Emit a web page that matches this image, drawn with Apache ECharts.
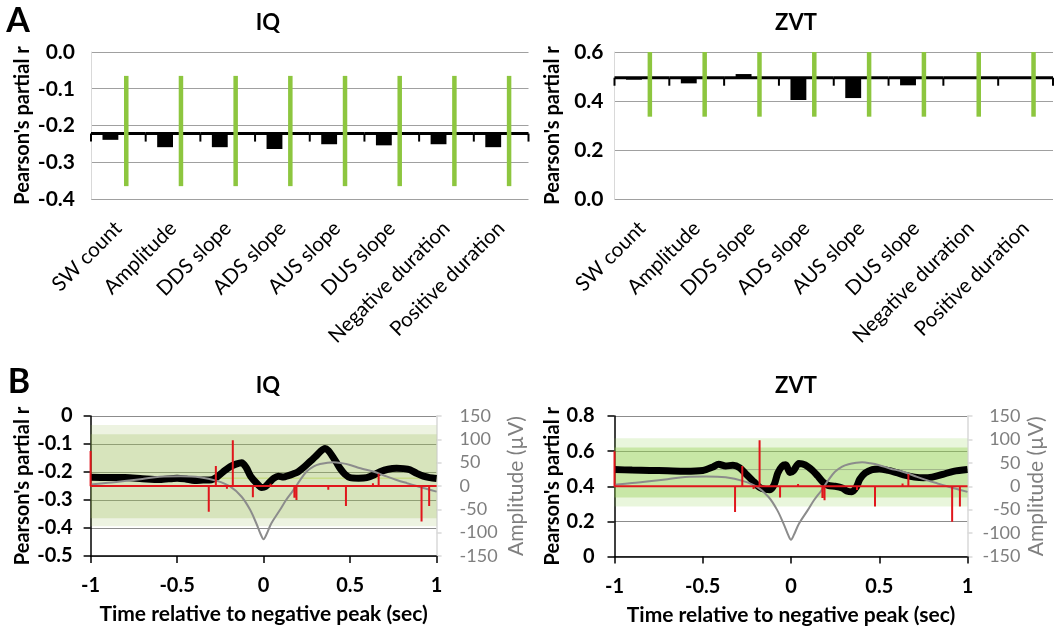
<!DOCTYPE html>
<html><head><meta charset="utf-8">
<script src="https://cdn.jsdelivr.net/npm/echarts@6/dist/echarts.min.js"></script>
<style>html,body{margin:0;padding:0;background:#fff}#c{width:1054px;height:627px}</style>
</head><body><div id="c"></div>
<script>
// ---------- DATA ----------
const categories = ['SW count','Amplitude','DDS slope','ADS slope','AUS slope','DUS slope','Negative duration','Positive duration'];
const iqPartialR  = [-0.239,-0.259,-0.259,-0.264,-0.251,-0.254,-0.251,-0.259];
const zvtPartialR = [0.487,0.472,0.510,0.404,0.412,0.464,0.498,0.493];
// null-distribution (mean, 95% range, soft outer range)
const iqNull  = {mean:-0.222, low:-0.365, high:-0.065, outerLow:-0.394, outerHigh:-0.032};
const zvtNull = {mean:0.495, low:0.336, high:0.62, outerLow:0.284, outerHigh:0.673};
// partial r over time (sec) relative to negative peak
const iqTimeR = [[-1,-0.219],[-0.9,-0.22],[-0.8,-0.22],[-0.7,-0.224],[-0.6,-0.227],[-0.5,-0.222],[-0.45,-0.225],[-0.4,-0.23],[-0.35,-0.229],[-0.3,-0.228],[-0.27,-0.218],[-0.233,-0.199],[-0.194,-0.181],[-0.16,-0.172],[-0.127,-0.167],[-0.1,-0.185],[-0.075,-0.215],[-0.04,-0.24],[-0.011,-0.255],[0.01,-0.252],[0.037,-0.235],[0.06,-0.222],[0.085,-0.215],[0.115,-0.218],[0.143,-0.213],[0.17,-0.207],[0.2,-0.199],[0.235,-0.182],[0.268,-0.163],[0.3,-0.145],[0.326,-0.128],[0.355,-0.116],[0.375,-0.124],[0.394,-0.14],[0.42,-0.165],[0.442,-0.187],[0.47,-0.208],[0.5,-0.22],[0.55,-0.222],[0.596,-0.22],[0.64,-0.21],[0.673,-0.199],[0.72,-0.19],[0.769,-0.187],[0.81,-0.188],[0.846,-0.192],[0.885,-0.205],[0.923,-0.215],[0.96,-0.22],[1,-0.223]];
const zvtTimeR = [[-1,0.495],[-0.9,0.492],[-0.8,0.49],[-0.7,0.488],[-0.6,0.486],[-0.5,0.49],[-0.442,0.51],[-0.41,0.525],[-0.37,0.515],[-0.329,0.52],[-0.29,0.505],[-0.251,0.465],[-0.21,0.425],[-0.176,0.392],[-0.145,0.382],[-0.119,0.38],[-0.095,0.41],[-0.075,0.475],[-0.05,0.515],[-0.03,0.522],[-0.006,0.478],[0.015,0.49],[0.045,0.53],[0.08,0.522],[0.12,0.492],[0.15,0.46],[0.18,0.425],[0.21,0.405],[0.25,0.4],[0.29,0.39],[0.316,0.373],[0.345,0.368],[0.37,0.395],[0.39,0.44],[0.42,0.475],[0.46,0.495],[0.5,0.498],[0.55,0.49],[0.6,0.477],[0.65,0.462],[0.7,0.452],[0.75,0.448],[0.8,0.452],[0.86,0.468],[0.92,0.485],[1,0.495]];
// average slow-wave amplitude (µV)
const waveAmp = [[-1,3],[-0.9,7],[-0.79,11],[-0.7,15],[-0.6,20],[-0.48,21],[-0.37,19],[-0.27,11],[-0.194,-1],[-0.127,-23],[-0.078,-51],[-0.04,-82],[-0.015,-105],[0,-114],[0.015,-105],[0.045,-80],[0.095,-51],[0.13,-30],[0.172,-9],[0.21,12],[0.249,31],[0.29,42],[0.326,47],[0.37,50],[0.403,51],[0.45,49],[0.5,45],[0.56,38],[0.634,31],[0.7,22],[0.769,13],[0.83,6],[0.885,0],[0.94,-6],[1,-12]];
// red spikes (µV, right axis)
const spikeTimes  = [-1, -0.317, -0.276, -0.212, -0.178, -0.062, 0.04, 0.178, 0.19, 0.374, 0.476, 0.632, 0.665, 0.913, 0.957];
const spikeValues = [75, -55, 43, -6, 98, -24, 5, -25, -30, -8, -43, 6, 26, -76, -43];
const xTicks = {min:-1, max:1, interval:0.5};

// ---------- BUILD ----------
const FONT = 'Lato, "Open Sans", sans-serif';
const spikeLine = [];
spikeTimes.forEach((t,i)=>{ if(i>0) spikeLine.push([t,0]); spikeLine.push([t,spikeValues[i]]); spikeLine.push([t,0]); });
spikeLine.push([1,0]);

function barSeries(vals, cross, idx){
  return {type:'custom', xAxisIndex:idx, yAxisIndex:idx, z:2, silent:true,
    data: vals.map((v,i)=>[i,v]), encode:{x:0,y:1},
    renderItem:(p,api)=>{
      const i=api.value(0), v=api.coord([i,api.value(1)]), b=api.coord([i,cross]);
      const w=api.size([1,0])[0]*0.29;
      return {type:'rect', shape:{x:v[0]-w, y:Math.min(v[1],b[1]), width:w, height:Math.abs(v[1]-b[1])}, style:{fill:'#000'}};
    }};
}
function errSeries(nul, yMax, idx){
  return {type:'custom', xAxisIndex:idx, yAxisIndex:idx, z:4, silent:true,
    data: categories.map((c,i)=>[i,nul.low,Math.min(nul.high,yMax)]), encode:{x:0,y:[1,2]},
    renderItem:(p,api)=>{
      const i=api.value(0), lo=api.coord([i,api.value(1)]), hi=api.coord([i,api.value(2)]);
      const x=lo[0]+api.size([1,0])[0]*0.145;
      return {type:'line', shape:{x1:x,y1:lo[1],x2:x,y2:hi[1]}, style:{stroke:'#8dc63f', lineWidth:4.5}};
    }};
}
function crossAxisSeries(cross, idx){
  return {type:'custom', xAxisIndex:idx, yAxisIndex:idx, z:3, silent:true,
    data: categories.map((c,i)=>[i,cross]), encode:{x:0,y:1},
    renderItem:(p,api)=>{
      const i=api.value(0), c=api.coord([i,api.value(1)]), band=api.size([1,0])[0];
      const l=c[0]-band/2, r=c[0]+band/2;
      const ch=[{type:'line', shape:{x1:l,y1:c[1],x2:r,y2:c[1]}, style:{stroke:'#000',lineWidth:3}},
                {type:'line', shape:{x1:l,y1:c[1],x2:l,y2:c[1]+8}, style:{stroke:'#000',lineWidth:2}}];
      if(i===categories.length-1) ch.push({type:'line', shape:{x1:r,y1:c[1],x2:r,y2:c[1]+8}, style:{stroke:'#000',lineWidth:2}});
      return {type:'group', children:ch};
    }};
}
function catX(idx){
  return {gridIndex:idx, type:'category', data:categories, boundaryGap:true,
    axisLine:{show:false}, axisTick:{show:false}, splitLine:{show:false},
    axisLabel:{rotate:45, interval:0, fontSize:20.5, fontFamily:FONT, color:'#000', margin:26}};
}
function aY(idx,min,max,interval,margin,gap){
  return {gridIndex:idx, type:'value', min, max, interval,
    axisLine:{show:true,onZero:false,lineStyle:{color:'#d9d9d9',width:1}}, axisTick:{show:false},
    splitLine:{show:true,lineStyle:{color:'#a0a0a0',width:1}},
    axisLabel:{formatter:v=>v.toFixed(1), fontSize:21, fontWeight:'bold', fontFamily:FONT, color:'#000', margin},
    name:"Pearson's partial r", nameLocation:'middle', nameRotate:90, nameGap:gap,
    nameTextStyle:{fontSize:20, fontWeight:'bold', fontFamily:FONT, color:'#000'}};
}
function timeX(idx){
  return {gridIndex:idx, type:'value', min:xTicks.min, max:xTicks.max, interval:xTicks.interval,
    axisLine:{show:true,onZero:false,lineStyle:{color:'#000',width:1.5}},
    axisTick:{show:true,length:7,lineStyle:{color:'#000',width:1.5}}, splitLine:{show:false},
    axisLabel:{fontSize:20, fontWeight:'bold', fontFamily:FONT, color:'#000', margin:20},
    name:'Time relative to negative peak (sec)', nameLocation:'middle', nameGap:48,
    nameTextStyle:{fontSize:21, fontWeight:'bold', fontFamily:FONT, color:'#000'}};
}
function rLeft(idx,min,max,interval,margin,gap){
  return {gridIndex:idx, type:'value', min, max, interval,
    axisLine:{show:true,onZero:false,lineStyle:{color:'#000',width:1.5}},
    axisTick:{show:true,length:7,lineStyle:{color:'#000',width:1.5}},
    splitLine:{show:true,lineStyle:{color:'#8c8c8c',width:1}},
    axisLabel:{fontSize:20, fontWeight:'bold', fontFamily:FONT, color:'#000', margin},
    name:"Pearson's partial r", nameLocation:'middle', nameRotate:90, nameGap:gap,
    nameTextStyle:{fontSize:20, fontWeight:'bold', fontFamily:FONT, color:'#000'}};
}
function ampRight(idx,margin,align,gap){
  return {gridIndex:idx, type:'value', position:'right', min:-150, max:150, interval:50,
    axisLine:{show:true,onZero:false,lineStyle:{color:'#d9d9d9',width:1.5}},
    axisTick:{show:true,length:5,lineStyle:{color:'#d9d9d9',width:1.5}}, splitLine:{show:false},
    axisLabel:{fontSize:18, fontFamily:FONT, color:'#7f7f7f', margin, align},
    name:'Amplitude (µV)', nameLocation:'middle', nameRotate:90, nameGap:gap,
    nameTextStyle:{fontSize:21, fontFamily:FONT, color:'#7f7f7f'}};
}
function timeSeries(xi, yl, yr, rData, nul, bandRGB, aOuter, aInner, meanColor){
  return [
    {type:'line', xAxisIndex:xi, yAxisIndex:yl, z:1, silent:true, symbol:'none',
     data:[[xTicks.min,nul.mean],[xTicks.max,nul.mean]], lineStyle:{color:meanColor,width:1},
     markArea:{silent:true, data:[
       [{yAxis:nul.outerLow, itemStyle:{color:`rgba(${bandRGB},${aOuter})`}},{yAxis:nul.outerHigh}],
       [{yAxis:nul.low, itemStyle:{color:`rgba(${bandRGB},${aInner})`}},{yAxis:nul.high}]]}},
    {type:'line', xAxisIndex:xi, yAxisIndex:yl, z:2, silent:true, symbol:'none', smooth:0.3,
     data:rData, lineStyle:{color:'#000',width:7}},
    {type:'line', xAxisIndex:xi, yAxisIndex:yr, z:3, silent:true, symbol:'none', smooth:0.35,
     data:waveAmp, lineStyle:{color:'#8c8c8c',width:2}},
    {type:'line', xAxisIndex:xi, yAxisIndex:yr, z:4, silent:true, symbol:'none',
     data:spikeLine, lineStyle:{color:'#e0161c',width:2}}
  ];
}
const txt=(x,y,t,size)=>({type:'text', x, y, style:{text:t, font:`bold ${size}px ${FONT}`, fill:'#000', textAlign:'center', textVerticalAlign:'middle'}});

const chart = echarts.init(document.getElementById('c'), null, {renderer:'canvas'});
chart.setOption({
  animation:false, backgroundColor:'#fff',
  graphic:[txt(18,21,'A',34), txt(268,23,'IQ',22), txt(796,23,'ZVT',22),
           txt(19,382,'B',34), txt(268,386,'IQ',22), txt(796,386,'ZVT',22)],
  grid:[
    {left:91, top:52, width:437.5, height:147},
    {left:614.5, top:52, width:438.5, height:147},
    {left:90.6, top:416, width:346, height:140},
    {left:614.5, top:416, width:353, height:140.5}
  ],
  xAxis:[catX(0), catX(1), timeX(2), timeX(3)],
  yAxis:[
    aY(0,-0.4,0,0.1,16,58),
    aY(1,0,0.6,0.2,11,52),
    rLeft(2,-0.5,0,0.1,18,58),
    ampRight(2,23,'left',69),
    rLeft(3,0,0.8,0.2,20,52),
    ampRight(3,53,'right',58)
  ],
  series:[
    barSeries(iqPartialR, iqNull.mean, 0), crossAxisSeries(iqNull.mean, 0), errSeries(iqNull, 0, 0),
    barSeries(zvtPartialR, zvtNull.mean, 1), crossAxisSeries(zvtNull.mean, 1), errSeries(zvtNull, 0.6, 1),
    ...timeSeries(2, 2, 3, iqTimeR, iqNull, '155,187,89', 0.18, 0.27, '#c2d96f'),
    ...timeSeries(3, 4, 5, zvtTimeR, zvtNull, '146,208,80', 0.2, 0.38, '#9fb489')
  ]
});
</script></body></html>
